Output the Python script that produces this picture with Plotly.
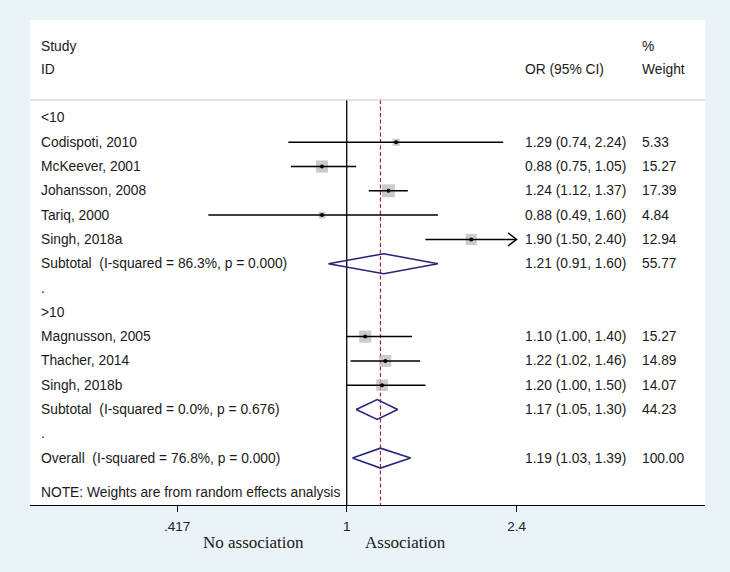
import math
import plotly.graph_objects as go

# study-level data
studies = ["Codispoti, 2010", "McKeever, 2001", "Johansson, 2008", "Tariq, 2000", "Singh, 2018a",
           "Magnusson, 2005", "Thacher, 2014", "Singh, 2018b"]
study_or = [1.29, 0.88, 1.24, 0.88, 1.90, 1.10, 1.22, 1.20]
study_lo = [0.74, 0.75, 1.12, 0.49, 1.50, 1.00, 1.02, 1.00]
study_hi = [2.24, 1.05, 1.37, 1.60, 2.40, 1.40, 1.46, 1.50]
study_w = [5.33, 15.27, 17.39, 4.84, 12.94, 15.27, 14.89, 14.07]
study_rows = [1, 2, 3, 4, 5, 9, 10, 11]

# pooled estimates
pooled_labels = ["Subtotal  (I-squared = 86.3%, p = 0.000)",
                 "Subtotal  (I-squared = 0.0%, p = 0.676)",
                 "Overall  (I-squared = 76.8%, p = 0.000)"]
pooled_or = [1.21, 1.17, 1.19]
pooled_lo = [0.91, 1.05, 1.03]
pooled_hi = [1.60, 1.30, 1.39]
pooled_w = [55.77, 44.23, 100.00]
pooled_rows = [6, 12, 14]

# other label rows
extra_labels = ["<10", ".", ">10", "."]
extra_rows = [0, 7, 8, 13]

tick_vals = [0.417, 1, 2.4]
tick_text = [".417", "1", "2.4"]
x_min, x_max = 0.1954, 6.34

FONT = "Arial, Liberation Sans, sans-serif"
TEXT_COLOR = "#1a1a1a"
SEP_ROW = -0.74
Y_BOTTOM = 15.93
Y_TOP = -4.03

fig = go.Figure()

overall = pooled_or[-1]
fig.add_trace(go.Scatter(x=[overall, overall], y=[SEP_ROW, Y_BOTTOM], mode="lines",
                         line=dict(color="#a3283a", width=1.2, dash="4px,2.5px"), hoverinfo="skip"))
fig.add_trace(go.Scatter(x=[1, 1], y=[SEP_ROW, Y_BOTTOM], mode="lines",
                         line=dict(color="black", width=1.3), hoverinfo="skip"))

# weight boxes
fig.add_trace(go.Scatter(x=study_or, y=study_rows, mode="markers",
                         marker=dict(symbol="square", color="#b5b5b5",
                                     size=[3.1 * math.sqrt(w) for w in study_w], line=dict(width=0)),
                         hoverinfo="skip"))

# confidence intervals (with arrow when clipped at top tick)
ci_x, ci_y = [], []
arrow_x, arrow_y = [], []
for lo, hi, r in zip(study_lo, study_hi, study_rows):
    end = min(hi, tick_vals[-1])
    ci_x += [lo, end, None]
    ci_y += [r, r, None]
    if hi >= tick_vals[-1]:
        back = end / 1.045
        arrow_x += [back, end, back, None]
        arrow_y += [r - 0.27, r, r + 0.27, None]
fig.add_trace(go.Scatter(x=ci_x, y=ci_y, mode="lines", line=dict(color="black", width=1.5),
                         hoverinfo="skip"))
fig.add_trace(go.Scatter(x=arrow_x, y=arrow_y, mode="lines", line=dict(color="black", width=1.5),
                         hoverinfo="skip"))
fig.add_trace(go.Scatter(x=study_or, y=study_rows, mode="markers",
                         marker=dict(color="black", size=4), hoverinfo="skip"))

# diamonds
dx, dy = [], []
for est, lo, hi, r in zip(pooled_or, pooled_lo, pooled_hi, pooled_rows):
    dx += [lo, est, hi, est, lo, None]
    dy += [r, r - 0.41, r, r + 0.41, r, None]
fig.add_trace(go.Scatter(x=dx, y=dy, mode="lines", line=dict(color="#26267a", width=1.6),
                         hoverinfo="skip"))


def px_to_paper(px):
    return (px - 30) / 675


annotations = []


def add_text(text, xpx, row, size=13.8):
    annotations.append(dict(text=text.replace("  ", "\u00a0\u00a0"), x=px_to_paper(xpx), xref="paper",
                            y=row, yref="y", xanchor="left", yanchor="middle", showarrow=False,
                            font=dict(family=FONT, size=size, color=TEXT_COLOR)))


# header
add_text("Study", 39, -2.96)
add_text("ID", 39, -1.98)
add_text("OR (95% CI)", 523, -1.98)
add_text("%", 640, -2.96)
add_text("Weight", 640, -1.98)

for lab, r in zip(extra_labels, extra_rows):
    add_text(lab, 39, r)
for name, est, lo, hi, w, r in zip(studies, study_or, study_lo, study_hi, study_w, study_rows):
    add_text(name, 39, r)
    add_text(f"{est:.2f} ({lo:.2f}, {hi:.2f})", 523, r)
    add_text(f"{w:.2f}", 640, r)
for name, est, lo, hi, w, r in zip(pooled_labels, pooled_or, pooled_lo, pooled_hi, pooled_w, pooled_rows):
    add_text(name, 39, r)
    add_text(f"{est:.2f} ({lo:.2f}, {hi:.2f})", 523, r)
    add_text(f"{w:.2f}", 640, r)
add_text("NOTE: Weights are from random effects analysis", 39, 15.43)

for txt, xpx in [("No association", 253), ("Association", 405)]:
    annotations.append(dict(text=txt, x=px_to_paper(xpx), xref="paper", y=-0.0763, yref="paper",
                            xanchor="center", yanchor="middle", showarrow=False,
                            font=dict(family="Times New Roman, Liberation Serif, serif", size=17,
                                      color=TEXT_COLOR)))

fig.update_layout(
    width=730, height=572,
    margin=dict(l=30, r=25, t=20, b=67),
    paper_bgcolor="#eaf3f7",
    plot_bgcolor="white",
    showlegend=False,
    annotations=annotations,
    shapes=[dict(type="line", xref="paper", yref="y", x0=0, x1=1, y0=SEP_ROW, y1=SEP_ROW,
                 line=dict(color="#c8c8c8", width=1))],
    xaxis=dict(type="log", range=[math.log10(x_min), math.log10(x_max)],
               tickmode="array", tickvals=tick_vals, ticktext=tick_text,
               showgrid=False, zeroline=False, showline=True, linecolor="black", linewidth=1,
               ticks="outside", ticklen=6, tickcolor="black", ticklabelstandoff=3,
               tickfont=dict(family=FONT, size=13.5, color="#222222")),
    yaxis=dict(range=[Y_BOTTOM, Y_TOP], visible=False, showgrid=False, zeroline=False),
)

fig.write_html("out.html", config={"displayModeBar": False},
               post_script="document.body.style.margin='0';")
